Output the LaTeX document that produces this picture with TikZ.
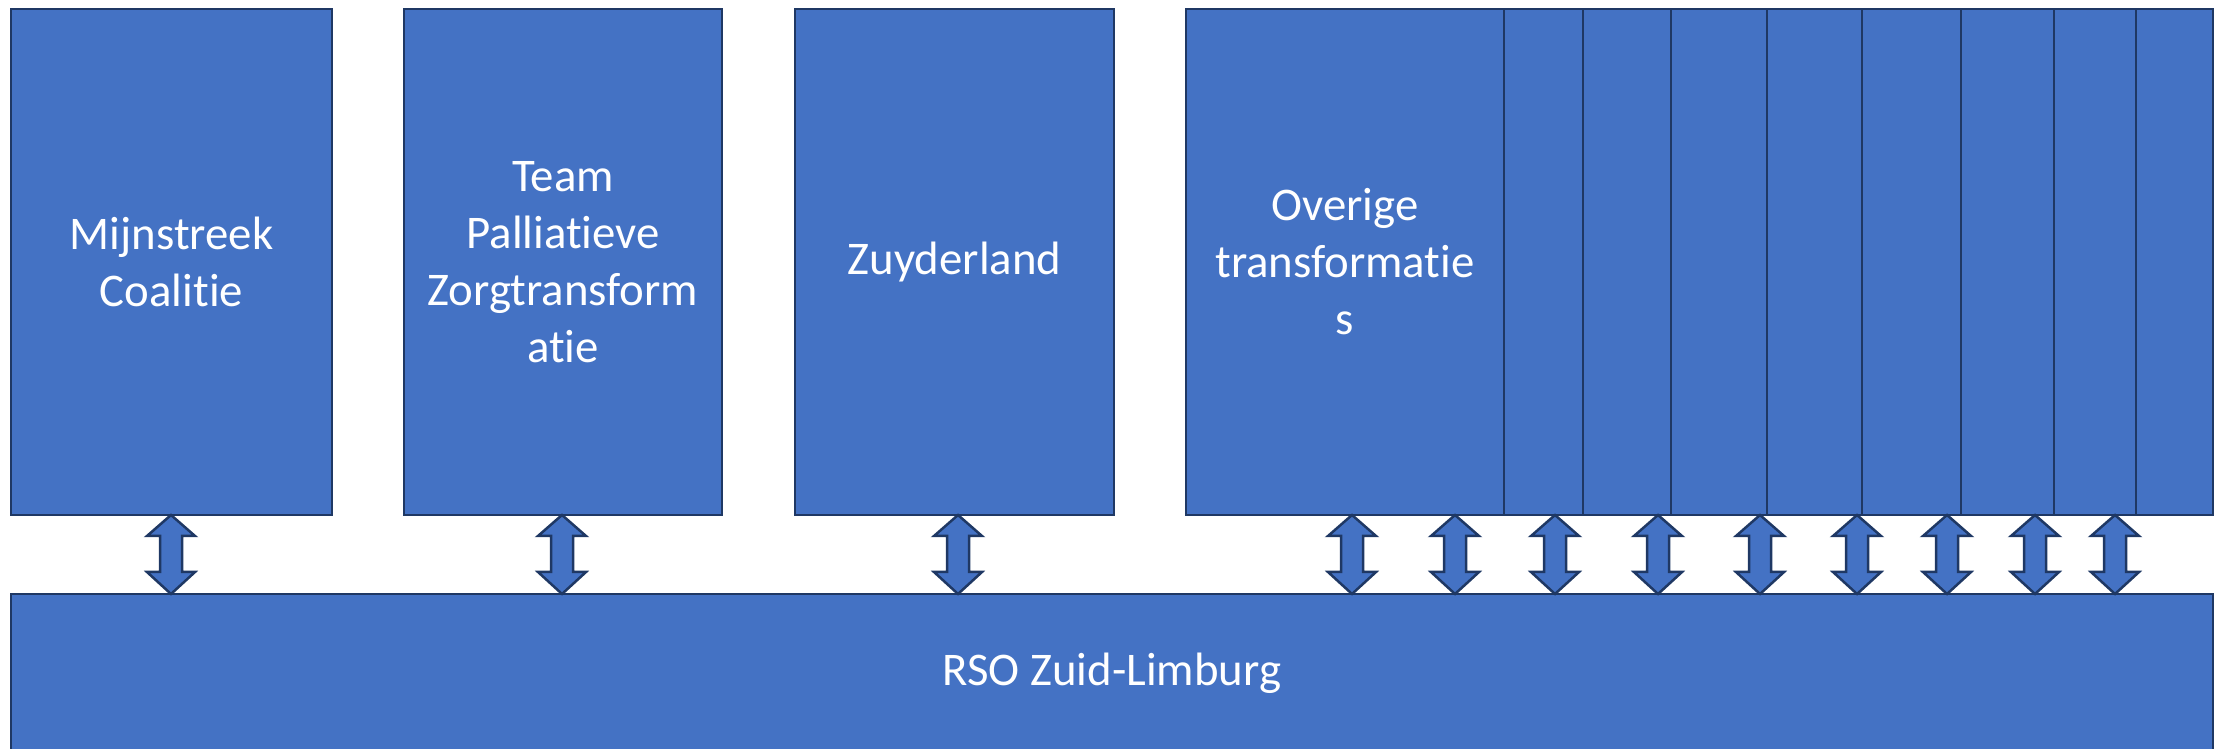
\documentclass[tikz,border=0pt]{standalone}
\usepackage{fontspec}
\setmainfont[Ligatures={NoCommon}]{Carlito}
\usetikzlibrary{calc}

\definecolor{blokblauw}{HTML}{4472C4}
\definecolor{randblauw}{HTML}{1F3864}

\begin{document}
\begin{tikzpicture}[x=1pt,y=1pt]
    \tikzstyle{blok}=[rectangle,draw=randblauw,fill=blokblauw,line width=2.5pt,
        text=white,align=center,inner sep=0pt,outer sep=0pt,
        font={\fontsize{46.8}{57}\selectfont}]
    \tikzstyle{kolom}=[blok, anchor=north west, minimum height=506pt]
    \tikzstyle{strook}=[blok, anchor=south west, minimum height=506pt]
    \tikzstyle{koppeling}=[draw=randblauw,fill=blokblauw,line width=2.5pt,line join=miter]

    \useasboundingbox (0,0) rectangle (2219,749);
    \clip (0,0) rectangle (2219,749);

    % De vier kolommen bovenaan
    \node[kolom, minimum width=321pt] (MC) at (11,740) {Mijnstreek\\Coalitie};
    \node[kolom, minimum width=318pt] (PZ) at (404,740) {Team\\Palliatieve\\Zorgtransform\\atie};
    \node[kolom, minimum width=319pt] (ZL) at (795,740) {Zuyderland};
    \node[kolom, minimum width=318pt] (OT) at (1186,740) {Overige\\transformatie\\s};

    % Smalle stroken naast de overige transformaties
    \foreach \name / \x / \w in {1/1504/79,2/1583/88,3/1671/96,4/1767/95,
                                 5/1862/99,6/1961/93,7/2054/82,8/2136/77}
        \node[strook, minimum width=\w pt] (S-\name) at (\x,234) {};

    % Het brede blok onderaan
    \node[blok, anchor=north west, minimum width=2202pt, minimum height=158pt]
        (RSO) at (11,155) {RSO Zuid-Limburg};

    % Dubbele pijlen tussen de kolommen en RSO
    \foreach \name / \x in {1/171,2/562,3/958,4/1352,5/1455,6/1555,7/1658,
                            8/1760,9/1857,10/1947,11/2035,12/2115} {
        \coordinate (T-\name) at (\x,234);
        \coordinate (B-\name) at (T-\name |- RSO.north);
        \draw[koppeling] (T-\name) -- ++(24,-21) -- ++(-13,0)
            -- ($(B-\name)+(11,22)$) -- ++(13,0) -- (B-\name)
            -- ++(-24,22) -- ++(13,0)
            -- ($(T-\name)+(-11,-21)$) -- ++(-13,0) -- cycle;
    }
\end{tikzpicture}
\end{document}
